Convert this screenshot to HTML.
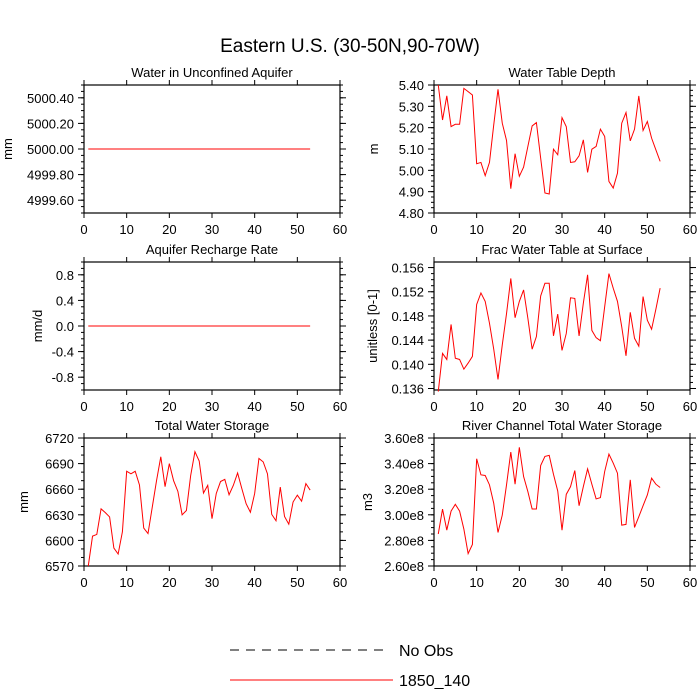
<!DOCTYPE html>
<html><head><meta charset="utf-8">
<style>
html,body{margin:0;padding:0;background:#fff;}
svg{display:block;font-family:"Liberation Sans",Arial,sans-serif;}
</style></head>
<body>
<svg id="chart" width="700" height="700" viewBox="0 0 700 700">
<text x="350" y="52" font-size="19" text-anchor="middle">Eastern U.S. (30-50N,90-70W)</text>
<g>
<line x1="230" y1="650" x2="390" y2="650" stroke="#000" stroke-width="1" stroke-dasharray="9,7"/>
<text x="399" y="656" font-size="16">No Obs</text>
<line x1="230" y1="680" x2="393" y2="680" stroke="#f00" stroke-width="1"/>
<text x="399" y="686" font-size="16">1850_140</text>
</g>
</svg>
<script>
const xTicks = [0,10,20,30,40,50,60];

const aquiferValues = [5000,5000,5000,5000,5000,5000,5000,5000,5000,5000,5000,5000,5000,5000,5000,5000,5000,5000,5000,5000,5000,5000,5000,5000,5000,5000,5000,5000,5000,5000,5000,5000,5000,5000,5000,5000,5000,5000,5000,5000,5000,5000,5000,5000,5000,5000,5000,5000,5000,5000,5000,5000,5000];
const aquiferTicks = ["4999.60","4999.80","5000.00","5000.20","5000.40"];

const wtdValues = [5.40,5.236,5.349,5.205,5.216,5.216,5.384,5.369,5.353,5.031,5.037,4.975,5.037,5.213,5.380,5.221,5.140,4.914,5.078,4.972,5.015,5.112,5.208,5.224,5.057,4.894,4.889,5.099,5.073,5.247,5.205,5.037,5.040,5.068,5.143,4.990,5.099,5.112,5.193,5.159,4.948,4.917,4.987,5.221,5.271,5.138,5.193,5.349,5.187,5.229,5.151,5.096,5.042];
const wtdTicks = ["4.80","4.90","5.00","5.10","5.20","5.30","5.40"];

const rechargeValues = [0,0,0,0,0,0,0,0,0,0,0,0,0,0,0,0,0,0,0,0,0,0,0,0,0,0,0,0,0,0,0,0,0,0,0,0,0,0,0,0,0,0,0,0,0,0,0,0,0,0,0,0,0];
const rechargeTicks = ["-0.8","-0.4","0.0","0.4","0.8"];

const fracValues = [0.1355,0.1418,0.1408,0.1466,0.1410,0.1408,0.1392,0.1402,0.1413,0.1499,0.1518,0.1504,0.1468,0.1425,0.1375,0.1432,0.1484,0.1542,0.1477,0.1504,0.1523,0.1476,0.1425,0.1446,0.1513,0.1534,0.1534,0.1447,0.1483,0.1423,0.1451,0.1510,0.1509,0.1447,0.1501,0.1548,0.1456,0.1444,0.1439,0.1495,0.1550,0.1526,0.1504,0.1462,0.1414,0.1486,0.1443,0.1430,0.1512,0.1473,0.1458,0.1491,0.1526];
const fracTicks = ["0.136","0.140","0.144","0.148","0.152","0.156"];

const twsValues = [6570,6605,6607,6637,6632.5,6627.5,6591,6584,6610,6681,6678,6681,6665,6614.5,6608,6639,6670,6698,6663,6690,6670,6657.5,6630,6635,6676,6704,6693,6655.5,6664.5,6625.5,6655,6669,6671.5,6653.5,6664.5,6679,6660.5,6643,6633,6655,6696,6692,6678,6630.5,6623,6662.5,6628,6619,6645,6653,6646,6666.5,6659];
const twsTicks = ["6570","6600","6630","6660","6690","6720"];

const riverValues = [2.85,3.045,2.880,3.029,3.082,3.029,2.888,2.697,2.768,3.438,3.312,3.307,3.234,3.090,2.862,2.998,3.234,3.490,3.239,3.527,3.299,3.181,3.045,3.045,3.385,3.456,3.464,3.317,3.186,2.880,3.160,3.220,3.346,3.071,3.220,3.359,3.239,3.124,3.134,3.338,3.474,3.404,3.325,2.919,2.925,3.273,2.901,2.985,3.071,3.155,3.286,3.239,3.213];
const riverTicks = ["2.60e8","2.80e8","3.00e8","3.20e8","3.40e8","3.60e8"];

const NS = "http://www.w3.org/2000/svg";
const svg = document.getElementById('chart');
function mk(tag, attrs, parent){
  const e = document.createElementNS(NS, tag);
  for (const k in attrs) e.setAttribute(k, attrs[k]);
  parent.appendChild(e);
  return e;
}

function panel(cfg){
  const L=cfg.left, T=cfg.top, W=256, H=128;
  const g = mk('g', {}, svg);
  
  
  const xs = v => L + (v - 0) / 60 * W;
  const ys = v => T + H - (v - cfg.ymin) / (cfg.ymax - cfg.ymin) * H;
  const frame = mk('rect', {x:L, y:T, width:W, height:H, fill:'none', stroke:'#000', 'stroke-width':1.2}, g);
  
  
  const title = mk('text', {x:L+W/2, y:T-8, 'font-size':13, 'text-anchor':'middle'}, g);
  title.textContent = cfg.title;
  
  
  // x ticks
  xTicks.forEach(t => {
    const x = xs(t);
    mk('line', {x1:x, y1:T+H, x2:x, y2:T+H+5, stroke:'#000'}, g);
    mk('line', {x1:x, y1:T, x2:x, y2:T-5, stroke:'#000'}, g);
    const lb = mk('text', {x:x, y:T+H+21, 'font-size':13, 'text-anchor':'middle'}, g);
    lb.textContent = t;
    
    
  });
  // minor y ticks
  for (let v = cfg.ymin0; v <= cfg.ymax + 1e-9; v += cfg.minor) {
    if (v < cfg.ymin - 1e-9) continue;
    const y = ys(v);
    mk('line', {x1:L, y1:y, x2:L-3, y2:y, stroke:'#000'}, g);
    mk('line', {x1:L+W, y1:y, x2:L+W+3, y2:y, stroke:'#000'}, g);
  }
  // major y ticks
  cfg.ticks.forEach((lab, i) => {
    const v = cfg.tick0 + i * cfg.step;
    const y = ys(v);
    mk('line', {x1:L, y1:y, x2:L-6, y2:y, stroke:'#000'}, g);
    mk('line', {x1:L+W, y1:y, x2:L+W+6, y2:y, stroke:'#000'}, g);
    const lb = mk('text', {x:L-10, y:y+5, 'font-size':13, 'text-anchor':'end'}, g);
    lb.textContent = lab;
    
    
  });
  const yt = mk('text', {x:0, y:0, 'font-size':13, 'text-anchor':'middle', transform:'translate(' + cfg.ylx + ',' + (T+H/2) + ') rotate(-90)'}, g);
  yt.textContent = cfg.ylabel;
  
  
  const pts = cfg.values.map((v, i) => xs(i+1).toFixed(2) + ',' + ys(v).toFixed(2)).join(' ');
  const line = mk('polyline', {points:pts, fill:'none', stroke:'#f00', 'stroke-width':1}, g);
  
  
}

panel({name:'aquifer', left:84, top:85, title:'Water in Unconfined Aquifer', ylabel:'mm', ylx:12,
  ymin:4999.5, ymax:5000.5, ticks:aquiferTicks, tick0:4999.6, step:0.2, ymin0:4999.5, minor:0.05, values:aquiferValues});
panel({name:'water-table-depth', left:434, top:85, title:'Water Table Depth', ylabel:'m', ylx:378,
  ymin:4.80, ymax:5.40, ticks:wtdTicks, tick0:4.80, step:0.1, ymin0:4.80, minor:0.025, values:wtdValues});
panel({name:'recharge', left:84, top:262, title:'Aquifer Recharge Rate', ylabel:'mm/d', ylx:42,
  ymin:-1, ymax:1, ticks:rechargeTicks, tick0:-0.8, step:0.4, ymin0:-1, minor:0.1, values:rechargeValues});
panel({name:'frac-water-table', left:434, top:262, title:'Frac Water Table at Surface', ylabel:'unitless [0-1]', ylx:377,
  ymin:0.13575, ymax:0.15692, ticks:fracTicks, tick0:0.136, step:0.004, ymin0:0.136, minor:0.001, values:fracValues});
panel({name:'total-water-storage', left:84, top:438, title:'Total Water Storage', ylabel:'mm', ylx:28,
  ymin:6570, ymax:6720, ticks:twsTicks, tick0:6570, step:30, ymin0:6570, minor:10, values:twsValues});
panel({name:'river-storage', left:434, top:438, title:'River Channel Total Water Storage', ylabel:'m3', ylx:372,
  ymin:2.60, ymax:3.60, ticks:riverTicks, tick0:2.60, step:0.2, ymin0:2.60, minor:0.05, values:riverValues});
</script>
</body></html>
